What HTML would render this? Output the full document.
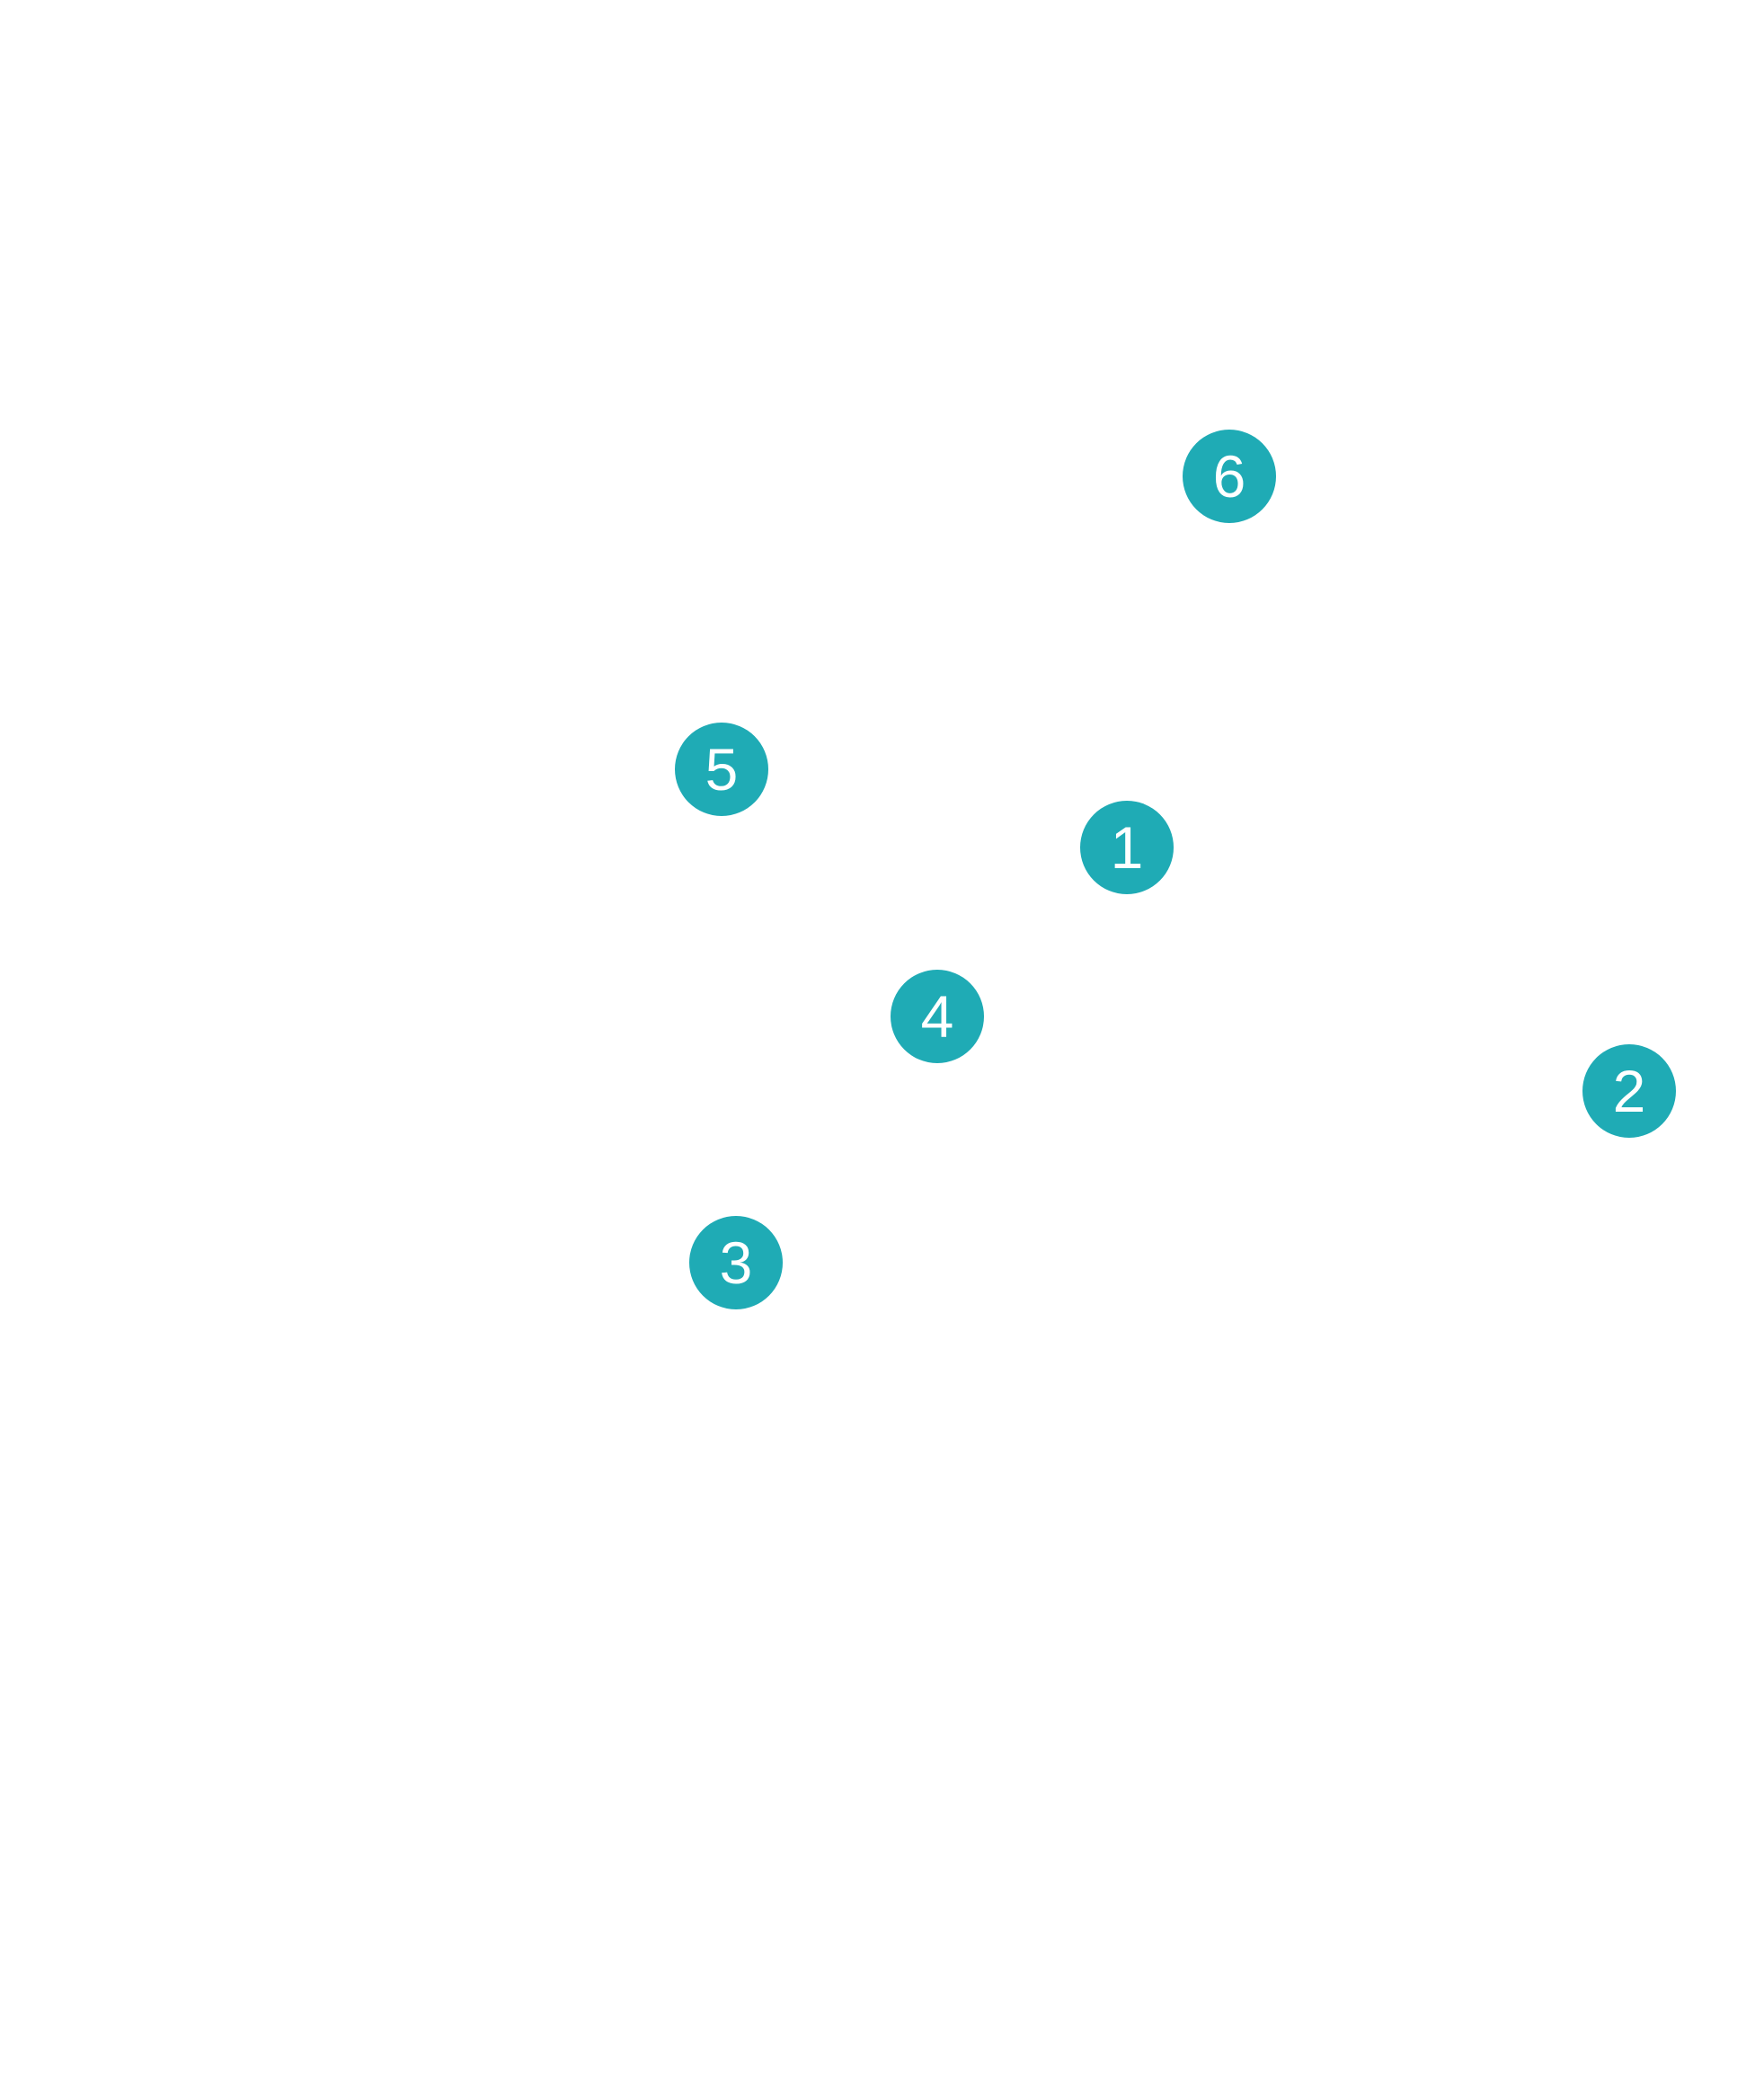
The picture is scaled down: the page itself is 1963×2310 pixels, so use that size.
<!DOCTYPE html>
<html><head><style>
html,body{margin:0;padding:0;background:#fff;width:1963px;height:2310px;overflow:hidden;position:relative}
.c{position:absolute;width:104px;height:104px;border-radius:50%;background:#1fabb5;color:#fff;font-family:"Liberation Sans",sans-serif;font-size:66px;line-height:104px;text-align:center}
</style></head><body>
<div class="c" style="left:1316px;top:478px">6</div>
<div class="c" style="left:751px;top:804px">5</div>
<div class="c" style="left:1202px;top:891px">1</div>
<div class="c" style="left:991px;top:1079px">4</div>
<div class="c" style="left:1761px;top:1162px">2</div>
<div class="c" style="left:767px;top:1353px">3</div>
</body></html>
